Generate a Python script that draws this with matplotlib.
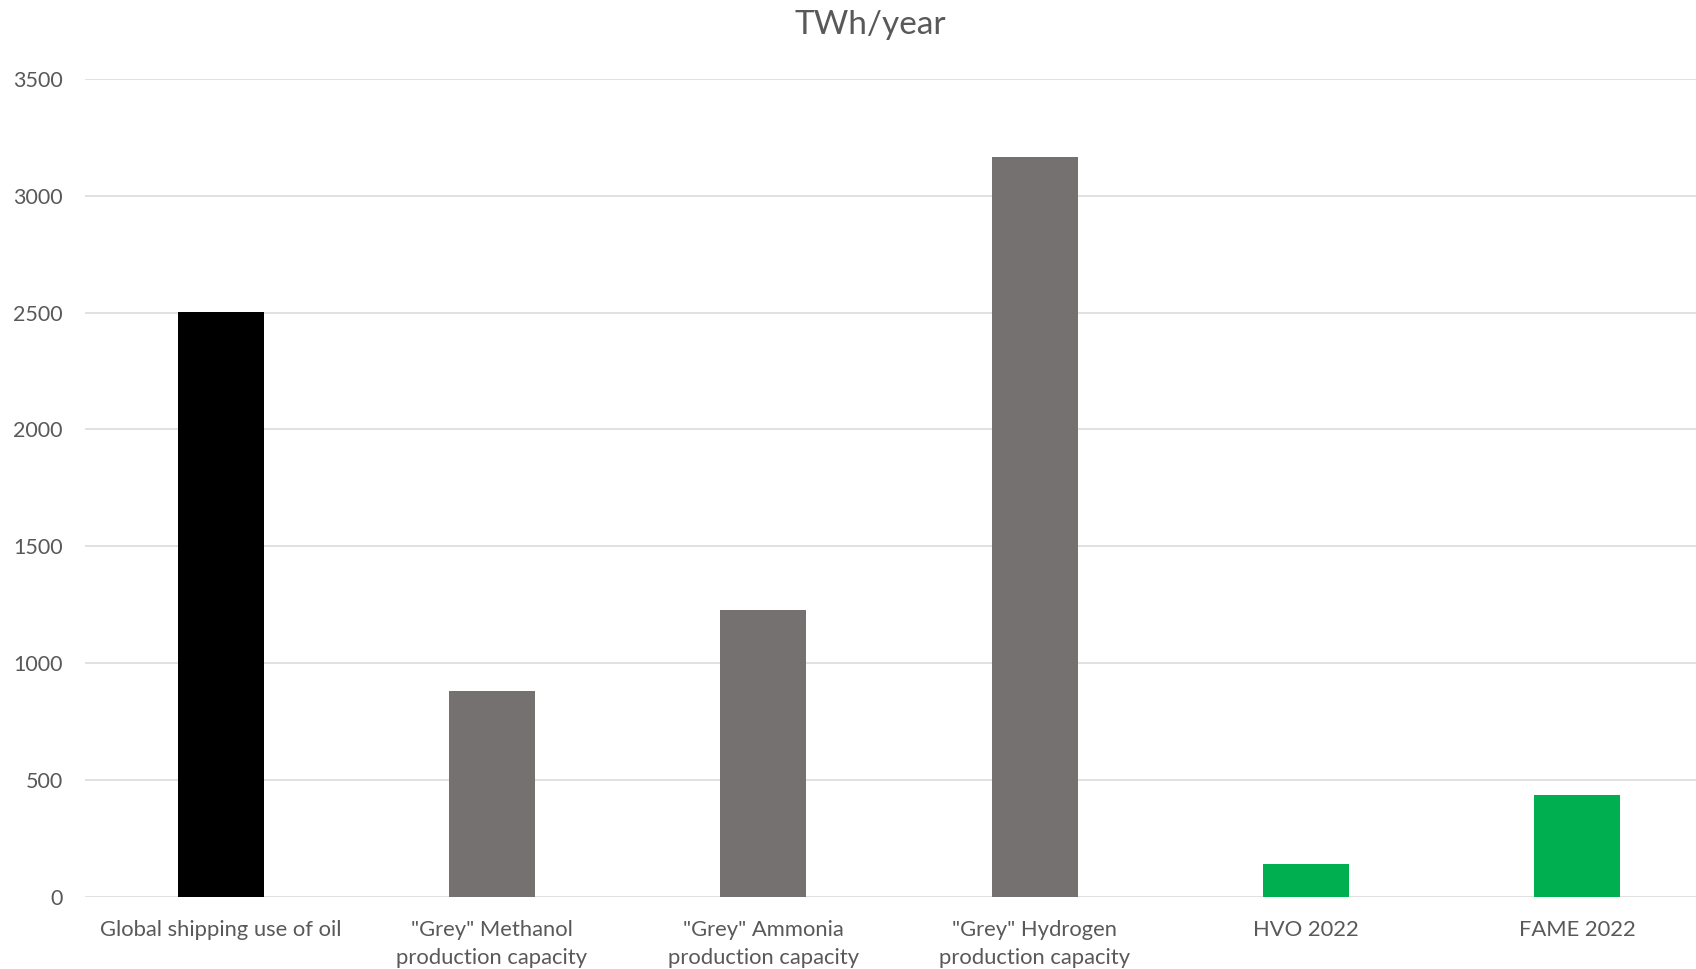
import matplotlib
matplotlib.use('Agg')
import matplotlib.pyplot as plt

# values (TWh/year)
categories = ['Global shipping use of oil', '"Grey" Methanol\nproduction capacity',
              '"Grey" Ammonia\nproduction capacity', '"Grey" Hydrogen\nproduction capacity',
              'HVO 2022', 'FAME 2022']
values = [2503, 879, 1226, 3166, 140, 435]
colors = ['#000000', '#767171', '#767171', '#767171', '#00B050', '#00B050']
yticks = [0, 500, 1000, 1500, 2000, 2500, 3000, 3500]

plt.rcParams['font.family'] = ['Lato', 'DejaVu Sans']

fig = plt.figure(figsize=(16.96, 9.69), dpi=100)
ax = fig.add_axes([85 / 1696, 72.3 / 969, (1713 - 85) / 1696, (896.7 - 79) / 969])

x = list(range(len(categories)))
ax.bar(x, values, width=0.317, color=colors, zorder=3)

ax.set_xlim(-0.5, len(categories) - 0.5)
ax.set_ylim(0, 3500)
ax.set_yticks(yticks)
ax.set_xticks(x)
ax.set_xticklabels(categories, linespacing=1.5)

ax.grid(axis='y', color='#D9D9D9', linewidth=1.1, zorder=0)
ax.tick_params(axis='y', length=0, labelsize=15.5, labelcolor='#595959', pad=16)
ax.tick_params(axis='x', length=0, labelsize=15.8, labelcolor='#595959', pad=17)
for s in ax.spines.values():
    s.set_visible(False)

fig.text(870 / 1696, 1 - 25 / 969, 'TWh/year', ha='center', va='center',
         fontsize=24, color='#595959')

fig.savefig('out.png', dpi=100)
